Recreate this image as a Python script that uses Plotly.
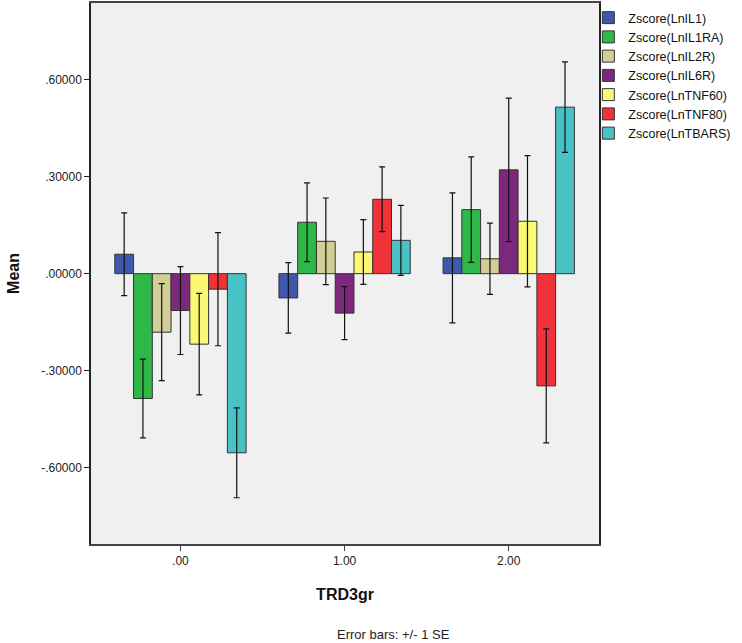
import plotly.graph_objects as go

categories = [".00", "1.00", "2.00"]
series_names = ["Zscore(LnIL1)", "Zscore(LnIL1RA)", "Zscore(LnIL2R)", "Zscore(LnIL6R)",
                "Zscore(LnTNF60)", "Zscore(LnTNF80)", "Zscore(LnTBARS)"]
series_colors = ["#3E58AC", "#2EB848", "#D3CE97", "#7C287D", "#FBF873", "#EF3338", "#48C2C5"]

# Means per series (groups .00, 1.00, 2.00)
mean_il1 = [0.060, -0.075, 0.049]
mean_il1ra = [-0.386, 0.159, 0.198]
mean_il2r = [-0.181, 0.100, 0.046]
mean_il6r = [-0.114, -0.122, 0.321]
mean_tnf60 = [-0.218, 0.067, 0.162]
mean_tnf80 = [-0.048, 0.230, -0.347]
mean_tbars = [-0.554, 0.103, 0.515]

# Standard errors
se_il1 = [0.128, 0.109, 0.201]
se_il1ra = [0.122, 0.122, 0.163]
se_il2r = [0.150, 0.134, 0.110]
se_il6r = [0.136, 0.082, 0.222]
se_tnf60 = [0.157, 0.100, 0.203]
se_tnf80 = [0.175, 0.100, 0.176]
se_tbars = [0.139, 0.108, 0.140]

y_tick_values = [-0.6, -0.3, 0.0, 0.3, 0.6]
y_tick_labels = ["-.60000", "-.30000", ".00000", ".30000", ".60000"]

means = [mean_il1, mean_il1ra, mean_il2r, mean_il6r, mean_tnf60, mean_tnf80, mean_tbars]
ses = [se_il1, se_il1ra, se_il2r, se_il6r, se_tnf60, se_tnf80, se_tbars]

fig = go.Figure()
for name, color, m, s in zip(series_names, series_colors, means, ses):
    fig.add_trace(go.Bar(
        x=categories, y=m, name=name,
        marker=dict(color=color, line=dict(color="#333333", width=1)),
        error_y=dict(type="data", array=s, visible=True, color="#111111",
                     thickness=1.2, width=3),
    ))

font_family = "Liberation Sans, Arial, sans-serif"
fig.update_layout(
    width=742, height=643,
    margin=dict(l=91, r=143, t=3, b=99, autoexpand=False),
    paper_bgcolor="white",
    plot_bgcolor="#F0F0F0",
    barmode="group",
    bargap=0.2,
    bargroupgap=0,
    font=dict(family=font_family, size=12, color="#222222"),
    legend=dict(x=0.979, y=1.0, xanchor="left", yanchor="top",
                font=dict(size=12.5, color="#111111"),
                bgcolor="rgba(0,0,0,0)", itemwidth=30, tracegroupgap=0),
    xaxis=dict(
        type="category", range=[-0.545, 2.55],
        showline=True, linecolor="#444444", linewidth=1.5, mirror=True,
        ticks="outside", ticklen=5, tickcolor="#444444",
        showgrid=False, zeroline=False,
        tickfont=dict(size=12, color="#222222"),
        title=dict(text="<b>TRD3gr</b>", font=dict(size=16, color="#111111"), standoff=22),
    ),
    yaxis=dict(
        range=[-0.836, 0.837],
        tickvals=y_tick_values, ticktext=y_tick_labels,
        showline=True, linecolor="#222222", linewidth=1.5, mirror=True,
        ticks="outside", ticklen=5, tickcolor="#222222",
        showgrid=False, zeroline=False,
        tickfont=dict(size=12, color="#222222"),
        title=dict(text="<b>Mean</b>", font=dict(size=16, color="#111111"), standoff=18),
    ),
    annotations=[dict(
        text="Error bars: +/- 1 SE", xref="paper", yref="paper",
        x=0.595, y=-0.168, xanchor="center", yanchor="middle", showarrow=False,
        font=dict(size=13, color="#222222"),
    )],
)

fig.write_html("out.html", config={"displayModeBar": False},
               post_script="document.body.style.margin='0';")
